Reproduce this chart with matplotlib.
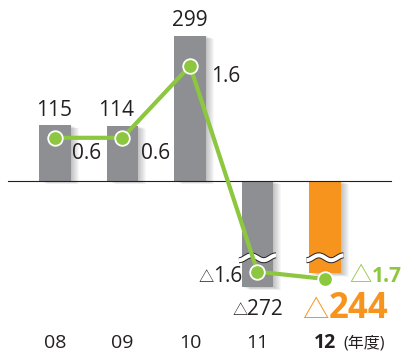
import matplotlib
matplotlib.use("Agg")
import matplotlib.pyplot as plt
import numpy as np
from matplotlib.transforms import offset_copy, blended_transform_factory

# Fiscal years, amounts (bars) and rates (line); negatives are shown with △
years = ["08", "09", "10", "11", "12"]
amounts = [115, 114, 299, -272, -244]
rates = [0.6, 0.6, 1.6, -1.6, -1.7]

GREY = "#8e8f93"
ORANGE = "#f7941d"
GREEN = "#8dc63f"
INK = "#231f20"

# span hidden behind the wavy break marks on the negative side
AMOUNT_CUT = 54
RATE_CUT = 0.34
CUT_AT = -158


def shown(v, cut):
    return v + cut if v < 0 else v


plt.rcParams["font.family"] = ["Open Sans", "Noto Sans CJK JP", "DejaVu Sans"]

fig = plt.figure(figsize=(4.06, 3.53), dpi=100)
ax = fig.add_axes([0, 0, 1, 1])
ax2 = ax.twinx()
for a in (ax, ax2):
    a.set_axis_off()

x = np.arange(len(years))
ax.set_xlim(-55 / 67.5, (406 - 55) / 67.5)
ax.set_ylim(-172 / 0.486, 181 / 0.486)
ax2.set_ylim(-172 / 72, 181 / 72)

bar_h = [shown(v, AMOUNT_CUT) for v in amounts]
colors = [GREY] * (len(years) - 1) + [ORANGE]
W = 0.46

# soft drop shadow
for i in range(1, 9):
    tr = offset_copy(ax.transData, fig=fig, x=i, y=-0.4 * i, units="dots")
    ax.bar(x, bar_h, width=W, color="black", alpha=0.03, transform=tr,
           zorder=1, linewidth=0)

ax.bar(x, bar_h, width=W, color=colors, zorder=2, linewidth=0)

# zero line
ax.axhline(0, xmin=8 / 406, xmax=391 / 406, color=INK, lw=0.8, zorder=3)

# wavy break marks
t = np.linspace(0, 1, 80)
for xi, v in zip(x, amounts):
    if v < 0:
        wx = xi - 0.275 + 0.55 * t
        wy = CUT_AT + 5.0 * np.sin(3 * np.pi * t - np.pi / 2)
        ax.plot(wx, wy, color=INK, lw=4.3, solid_capstyle="butt", zorder=4)
        ax.plot(wx, wy, color="white", lw=2.9, solid_capstyle="butt", zorder=5)

# rate line
rate_y = [shown(v, RATE_CUT) for v in rates]
ax2.plot(x, rate_y, color=GREEN, lw=3, zorder=3, marker="o", ms=10.5,
         mfc=GREEN, mec="white", mew=1.3)


def label(a, xy, value, dx, dy, size, tri, color=INK, weight="normal"):
    """Positive values are centred on (dx, dy); negative ones get a
    △ to the left of the digits, which start at (dx, dy)."""
    digits = f"{abs(value):g}"
    kw = dict(xytext=(dx, dy), textcoords="offset pixels", va="baseline",
              color=color)
    if value >= 0:
        a.annotate(digits, xy, ha="center", fontsize=size,
                   fontweight=weight, **kw)
    else:
        a.annotate("△", xy, ha="right", fontsize=tri, **kw)
        a.annotate(digits, xy, ha="left", fontsize=size,
                   fontweight=weight, **kw)


# bar value labels
bar_pos = [(-1, 9.5), (-6, 9.5), (0, 9.5), (-10, -28), (4, -44.7)]
for i, (xi, v, h) in enumerate(zip(x, amounts, bar_h)):
    dx, dy = bar_pos[i]
    if i == len(years) - 1:
        label(ax, (xi, h), v, dx, dy, 25, 19, ORANGE, "bold")
    else:
        label(ax, (xi, h), v, dx, dy, 15, 11)

# rate labels
rate_pos = [(32, -21), (33, -21), (36, -16), (-44, -10), (47, -2.8)]
for i, (xi, v, yv) in enumerate(zip(x, rates, rate_y)):
    dx, dy = rate_pos[i]
    if i == len(years) - 1:
        label(ax2, (xi, yv), v, dx, dy, 15, 16, GREEN, "bold")
    else:
        label(ax2, (xi, yv), v, dx, dy, 15, 11)

# category labels
btr = blended_transform_factory(ax.transData, ax.transAxes)
for i, (xi, yr) in enumerate(zip(x, years)):
    last = i == len(years) - 1
    ax.text(xi, 5 / 353, yr, transform=btr, ha="center", va="baseline",
            fontsize=14, color=INK, fontweight="bold" if last else "normal")
ax.annotate("(年度)", (x[-1], 0), xycoords=btr, xytext=(18, 5),
            textcoords="offset pixels", ha="left", va="baseline",
            fontsize=11.5, color=INK)

fig.savefig("out.png", dpi=100)
